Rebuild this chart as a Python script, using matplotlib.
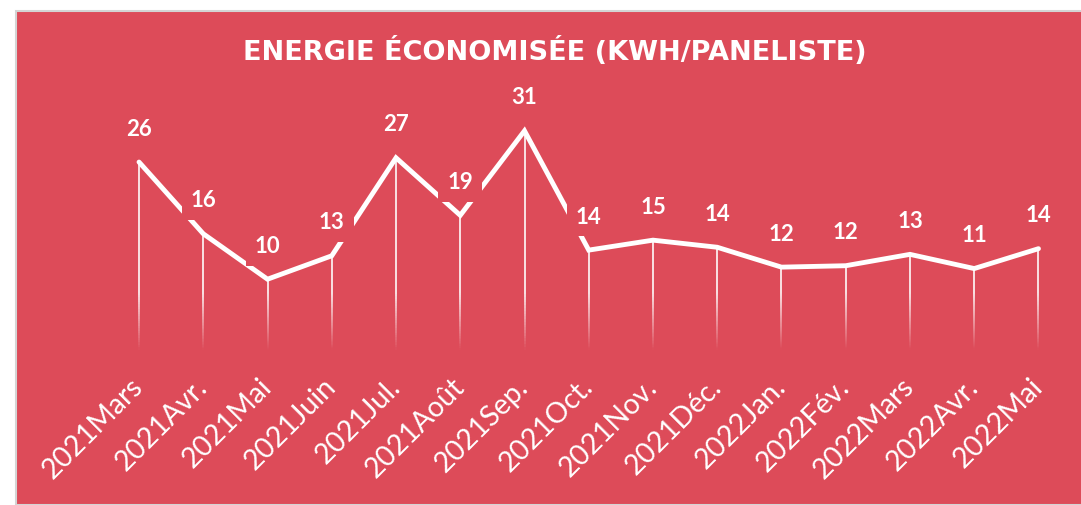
import numpy as np
import matplotlib
matplotlib.use("Agg")
import matplotlib.pyplot as plt
from matplotlib.patches import Rectangle
from matplotlib.collections import LineCollection

# ---- data ----
months = ["2021Mars", "2021Avr.", "2021Mai", "2021Juin", "2021Jul.", "2021Août",
          "2021Sep.", "2021Oct.", "2021Nov.", "2021Déc.", "2022Jan.", "2022Fév.",
          "2022Mars", "2022Avr.", "2022Mai"]
energy = [26.4, 16.3, 9.9, 13.2, 27.0, 18.9, 30.8, 14.0, 15.4, 14.4, 11.6, 11.8,
          13.4, 11.4, 14.2]
title = "ENERGIE ÉCONOMISÉE (KWH/PANELISTE)"

BG = "#DD4B59"
FONT = "Lato"

W, H = 1081, 505
fig = plt.figure(figsize=(W / 100, H / 100), dpi=100)
fig.patch.set_facecolor("white")

# red panel with light gray border
fig.patches.append(Rectangle((16 / W, 0), 1 - 16 / W + 0.01, (H - 11) / H,
                             transform=fig.transFigure, facecolor=BG,
                             edgecolor="#D4D4D4", linewidth=1.5, zorder=-5))

# axes placement (pixels)
x_left, x_right = 106.9, 1070.6
y_bottom, y_top = 349.5, 100.0
ax = fig.add_axes([x_left / W, (H - y_bottom) / H, (x_right - x_left) / W,
                   (y_bottom - y_top) / H])
ax.set_zorder(1)
ax.set_facecolor("none")
ymax = (y_bottom - y_top) / 7.1
ax.set_xlim(-0.5, len(months) - 0.5)
ax.set_ylim(0, ymax)
for s in ax.spines.values():
    s.set_visible(False)
ax.set_yticks([])

x = np.arange(len(months))

# drop lines with fade toward the bottom
fade = 8.0
for xi, v in zip(x, energy):
    ys = np.linspace(0, v, 80)
    segs = [[(xi, ys[i]), (xi, ys[i + 1])] for i in range(len(ys) - 1)]
    alphas = np.clip(((ys[:-1] + ys[1:]) / 2) / fade, 0, 1) * 0.9
    cols = [(1, 1, 1, a) for a in alphas]
    ax.add_collection(LineCollection(segs, colors=cols, linewidths=1.3,
                                     zorder=2, capstyle="butt"))

# main line
ax.plot(x, energy, color="white", linewidth=3.5, solid_joinstyle="miter",
        solid_capstyle="round", zorder=3)

# data labels with background boxes that mask the line
for xi, v in zip(x, energy):
    ax.annotate(f"{v:.0f}", (xi, v), xytext=(0, 33), textcoords="offset pixels",
                ha="center", va="center", color="white", fontsize=16,
                fontweight="bold", family=FONT, zorder=5,
                bbox=dict(boxstyle="square,pad=0.4", facecolor=BG,
                          edgecolor="none"))

# x tick labels
ax.set_xticks(x)
ax.set_xticklabels(months, rotation=45, ha="right", va="center",
                   rotation_mode="anchor", color="white", fontsize=20.5,
                   family=FONT)
ax.tick_params(axis="x", length=0, pad=24)

# title
fig.text(555 / W, 1 - 51 / H, title, ha="center", va="center", color="white",
         fontsize=19.5, fontweight="bold", family="DejaVu Sans")

fig.savefig("out.png", dpi=100, facecolor="white")
